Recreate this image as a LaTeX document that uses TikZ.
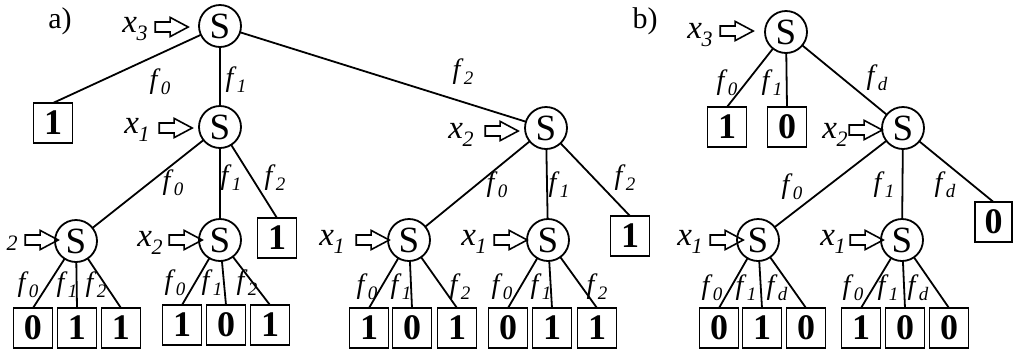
\documentclass[tikz,border=0pt]{standalone}
\usepackage{fontspec}
\setmainfont{Liberation Serif}
\usetikzlibrary{shapes.arrows}
\newcommand\fsub[2]{\textit{#1}\kern0.2pt\raisebox{-0.4ex}{\fontsize{9.5}{9.5}\selectfont\itshape #2}}
\newcommand\xsub[1]{\textit{x}\kern-0.3pt\raisebox{-0.5ex}{\fontsize{11}{11}\selectfont\itshape #1}}
\begin{document}
\begin{tikzpicture}[x=0.5pt,y=-0.5pt,line width=0.9pt,
  snode/.style={circle,draw,minimum size=21pt,inner sep=0pt,outer sep=0pt,font=\fontsize{18.5}{18.5}\selectfont},
  leaf/.style={draw,minimum width=19.5pt,minimum height=20pt,inner sep=0pt,outer sep=0pt,font=\fontsize{18}{18}\selectfont\bfseries},
  lab/.style={inner sep=0pt,font=\fontsize{14}{14}\selectfont},
  xlab/.style={inner sep=0pt,font=\fontsize{16.5}{16.5}\selectfont},
  harrow/.style={single arrow,draw,line width=0.8pt,minimum height=16.5pt,inner xsep=0pt,inner ysep=2.1pt,
    single arrow head extend=2.3pt,single arrow tip angle=56,outer sep=0pt},
  title/.style={inner sep=0pt,font=\fontsize{15}{15}\selectfont}]
\useasboundingbox (0,0) rectangle (1013,349);

% ---------- panel a ----------
\node[title] (ta) at (60,21) {a)};
\node[snode] (R) at (220,26) {S};
\node[xlab] (xR) at (135,29) {\xsub{3}};
\node[harrow] (aR) at (167,27) {};
\node[leaf] (L1) at (53,123) {1};
\node[snode] (A1) at (220,127) {S};
\node[xlab] (xA1) at (137,130) {\xsub{1}};
\node[harrow] (aA1) at (171,128) {};
\node[snode] (A2) at (546,128) {S};
\node[xlab] (xA2) at (461,135) {\xsub{2}};
\node[harrow] (aA2) at (497,131) {};
\draw (R) -- (L1.north);
\draw (R) -- (A1);
\draw (R) -- (A2);
\node[lab] (lR0) at (160,82) {\fsub{f}{0}};
\node[lab] (lR1) at (236,80) {\fsub{f}{1}};
\node[lab] (lR2) at (463,72) {\fsub{f}{2}};

\node[snode] (B1) at (76,241) {S};
\node[inner sep=0pt,font=\fontsize{11}{11}\selectfont\itshape] (xB1) at (12,243) {2};
\node[harrow] (aB1) at (37,240) {};
\node[snode] (B2) at (220,240) {S};
\node[xlab] (xB2) at (150,243) {\xsub{2}};
\node[harrow] (aB2) at (181,240) {};
\node[leaf] (B3) at (277,238) {1};
\draw (A1) -- (B1);
\draw (A1) -- (B2);
\draw (A1) -- (B3.north);
\node[lab] (lA10) at (173,183) {\fsub{f}{0}};
\node[lab] (lA11) at (231,178) {\fsub{f}{1}};
\node[lab] (lA12) at (275,178) {\fsub{f}{2}};

\node[leaf] (B11) at (33,328) {0};
\node[leaf] (B12) at (77,328) {1};
\node[leaf] (B13) at (121,328) {1};
\draw (B1) -- (B11.north);
\draw (B1) -- (B12.north);
\draw (B1) -- (B13.north);
\node[lab] (lB10) at (28,285) {\fsub{f}{0}};
\node[lab] (lB11) at (67,285) {\fsub{f}{1}};
\node[lab] (lB12) at (96,285) {\fsub{f}{2}};

\node[leaf] (B21) at (182,325) {1};
\node[leaf] (B22) at (226,325) {0};
\node[leaf] (B23) at (270,325) {1};
\draw (B2) -- (B21.north);
\draw (B2) -- (B22.north);
\draw (B2) -- (B23.north);
\node[lab] (lB20) at (175,283) {\fsub{f}{0}};
\node[lab] (lB21) at (212,283) {\fsub{f}{1}};
\node[lab] (lB22) at (247,283) {\fsub{f}{2}};

\node[snode] (C1) at (409,240) {S};
\node[xlab] (xC1) at (332,242) {\xsub{1}};
\node[harrow] (aC1) at (368,240) {};
\node[snode] (C2) at (548,240) {S};
\node[xlab] (xC2) at (474,242) {\xsub{1}};
\node[harrow] (aC2) at (506,240) {};
\node[leaf] (C3) at (630,236) {1};
\draw (A2) -- (C1);
\draw (A2) -- (C2);
\draw (A2) -- (C3.north);
\node[lab] (lA20) at (497,185) {\fsub{f}{0}};
\node[lab] (lA21) at (559,185) {\fsub{f}{1}};
\node[lab] (lA22) at (625,178) {\fsub{f}{2}};

\node[leaf] (C11) at (369,328) {1};
\node[leaf] (C12) at (412,328) {0};
\node[leaf] (C13) at (457,328) {1};
\draw (C1) -- (C11.north);
\draw (C1) -- (C12.north);
\draw (C1) -- (C13.north);
\node[lab] (lC10) at (367,287) {\fsub{f}{0}};
\node[lab] (lC11) at (401,287) {\fsub{f}{1}};
\node[lab] (lC12) at (460,287) {\fsub{f}{2}};

\node[leaf] (C21) at (508,328) {0};
\node[leaf] (C22) at (552,328) {1};
\node[leaf] (C23) at (597,328) {1};
\draw (C2) -- (C21.north);
\draw (C2) -- (C22.north);
\draw (C2) -- (C23.north);
\node[lab] (lC20) at (502,287) {\fsub{f}{0}};
\node[lab] (lC21) at (541,287) {\fsub{f}{1}};
\node[lab] (lC22) at (597,287) {\fsub{f}{2}};

% ---------- panel b ----------
\node[title] (tb) at (645,21) {b)};
\node[snode] (RB) at (786,32) {S};
\node[xlab] (xRB) at (700,35) {\xsub{3}};
\node[harrow] (aRB) at (732,31) {};
\node[leaf] (P1) at (727,127) {1};
\node[leaf] (P2) at (787,127) {0};
\node[snode] (D) at (903,128) {S};
\node[xlab] (xD) at (835,135) {\xsub{2}};
\node[harrow] (aD) at (861,130) {};
\draw (RB) -- (P1.north);
\draw (RB) -- (P2.north);
\draw (RB) -- (D);
\node[lab] (lRB0) at (727,83) {\fsub{f}{0}};
\node[lab] (lRB1) at (772,83) {\fsub{f}{1}};
\node[lab] (lRB2) at (877,78) {\fsub{f}{d}};

\node[snode] (E1) at (758,240) {S};
\node[xlab] (xE1) at (690,242) {\xsub{1}};
\node[harrow] (aE1) at (722,240) {};
\node[snode] (E2) at (902,240) {S};
\node[xlab] (xE2) at (833,242) {\xsub{1}};
\node[harrow] (aE2) at (862,240) {};
\node[leaf,minimum width=18.5pt] (E3) at (993.5,222) {0};
\draw (D) -- (E1);
\draw (D) -- (E2);
\draw (D) -- (E3.north);
\node[lab] (lD0) at (792,187) {\fsub{f}{0}};
\node[lab] (lD1) at (884,185) {\fsub{f}{1}};
\node[lab] (lD2) at (945,185) {\fsub{f}{d}};

\node[leaf] (E11) at (719,328) {0};
\node[leaf] (E12) at (762,328) {1};
\node[leaf] (E13) at (806,328) {0};
\draw (E1) -- (E11.north);
\draw (E1) -- (E12.north);
\draw (E1) -- (E13.north);
\node[lab] (lE10) at (712,288) {\fsub{f}{0}};
\node[lab] (lE11) at (746,288) {\fsub{f}{1}};
\node[lab] (lE12) at (777,288) {\fsub{f}{d}};

\node[leaf] (E21) at (861,328) {1};
\node[leaf] (E22) at (905,328) {0};
\node[leaf] (E23) at (949,328) {0};
\draw (E2) -- (E21.north);
\draw (E2) -- (E22.north);
\draw (E2) -- (E23.north);
\node[lab] (lE20) at (853,288) {\fsub{f}{0}};
\node[lab] (lE21) at (888,288) {\fsub{f}{1}};
\node[lab] (lE22) at (918,288) {\fsub{f}{d}};
\end{tikzpicture}
\end{document}
